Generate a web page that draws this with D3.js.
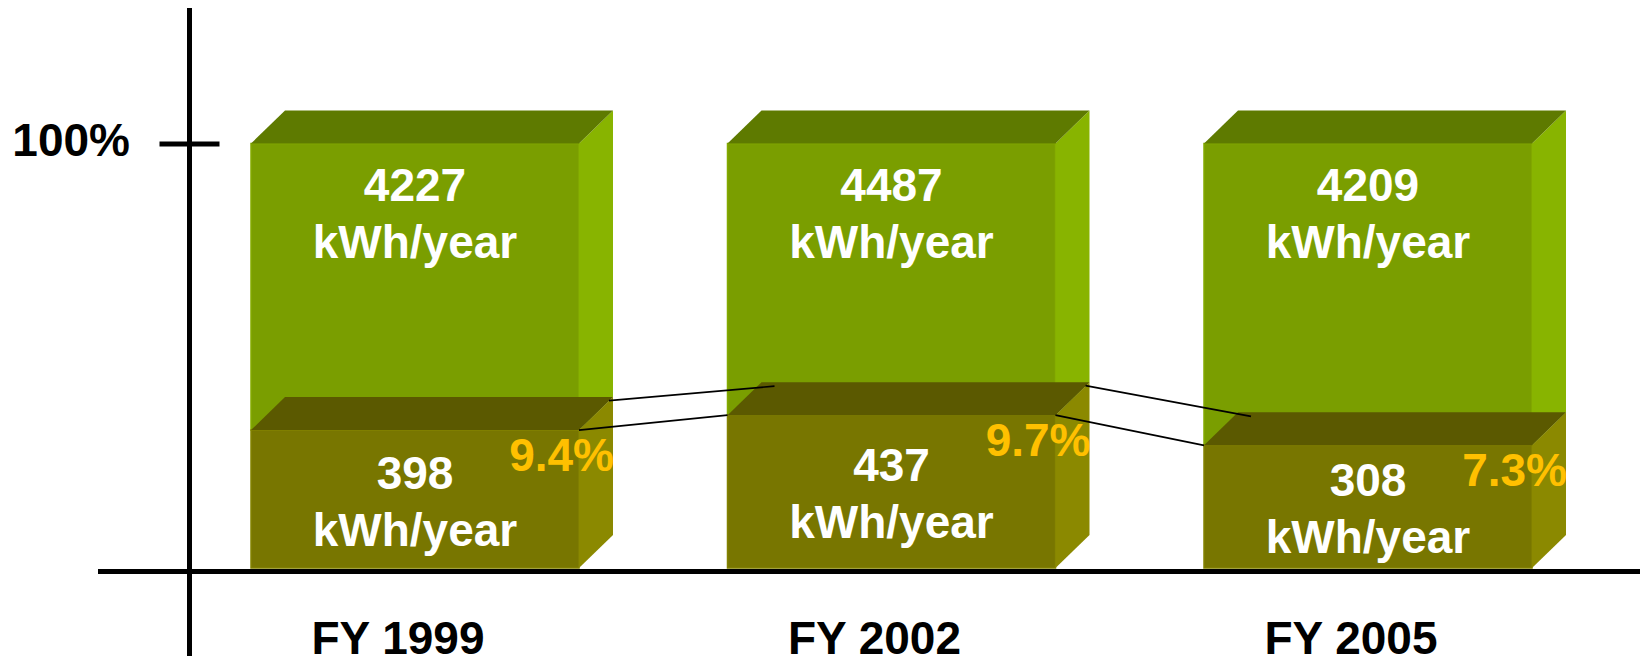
<!DOCTYPE html>
<html>
<head>
<meta charset="utf-8">
<script src="https://cdn.jsdelivr.net/npm/d3@7"></script>
<style>
  html, body { margin: 0; padding: 0; background: #ffffff; }
  svg { display: block; }
  text { font-family: "Liberation Sans", Arial, Helvetica, sans-serif; font-weight: bold; }
</style>
</head>
<body>
<svg id="chart" width="1640" height="668"></svg>
<script>
// ---- data ----
const categories   = ["FY 1999", "FY 2002", "FY 2005"];
const totalKWh     = [4227, 4487, 4209];   // kWh/year, whole bar
const standbyKWh   = [398, 437, 308];      // kWh/year, lower segment
const standbyShare = ["9.4%", "9.7%", "7.3%"];
const splitLevel   = [32.5, 36.0, 28.9];   // level (on the 0–100 % axis) where the split is pictured
const yTickValues  = [100];
const unitLabel    = "kWh/year";

// ---- layout ----
const W = 1640, H = 668;
const axisX = 189.5, axisY = 571.5;
const barW = 328, dx = 34, dy = 33;

const svg = d3.select("#chart");

const x = d3.scalePoint().domain(categories).range([415, 1368]);
const y = d3.scaleLinear().domain([0, 100]).range([568, 143.5]);

const colors = {
  upFront: "#7a9e00", upTop: "#5e7a00", upSide: "#88b400", upEdge: "#84aa00",
  loFront: "#787600", loTop: "#5b5900", loSide: "#8b8900", loEdge: "#838200",
  pct: "#ffc000"
};

const rows = categories.map((c, i) => ({
  cat: c, total: totalKWh[i], standby: standbyKWh[i], share: standbyShare[i], split: splitLevel[i]
}));

const gBars = svg.append("g");

function segment(g, x0, yTop, yBot, front, top, side, edge) {
  const x1 = x0 + barW;
  g.append("rect").attr("x", x0).attr("y", yTop).attr("width", barW).attr("height", yBot - yTop)
    .attr("fill", front).attr("stroke", edge).attr("stroke-width", 1.5);
  g.append("polygon")
    .attr("points", [[x1, yTop], [x1 + dx, yTop - dy], [x1 + dx, yBot - dy], [x1, yBot]].map(p => p.join(",")).join(" "))
    .attr("fill", side);
  g.append("polygon")
    .attr("points", [[x0, yTop], [x0 + dx, yTop - dy], [x1 + dx, yTop - dy], [x1, yTop]].map(p => p.join(",")).join(" "))
    .attr("fill", top);
}

rows.forEach(d => {
  const cx = x(d.cat), x0 = cx - barW / 2;
  const g = gBars.append("g");
  // upper (total) segment first, then the lower (standby) segment over it
  segment(g, x0, y(100), y(d.split), colors.upFront, colors.upTop, colors.upSide, colors.upEdge);
  segment(g, x0, y(d.split), y(0), colors.loFront, colors.loTop, colors.loSide, colors.loEdge);
});

// ---- connector lines ----
const gLines = svg.append("g").attr("stroke", "#000").attr("stroke-width", 1.7).attr("fill", "none");
for (let i = 0; i < rows.length - 1; i++) {
  const a = rows[i], b = rows[i + 1];
  const aR = x(a.cat) + barW / 2, bL = x(b.cat) - barW / 2;
  // back edge
  gLines.append("line")
    .attr("x1", aR + dx - 4).attr("y1", y(a.split) - dy + 3.5)
    .attr("x2", bL + dx + 13).attr("y2", y(b.split) - dy + 4);
  // front edge
  gLines.append("line")
    .attr("x1", aR).attr("y1", y(a.split))
    .attr("x2", bL).attr("y2", y(b.split));
}

// ---- labels ----
const gLab = svg.append("g").attr("text-anchor", "middle").attr("fill", "#ffffff").style("font-size", "46px");
rows.forEach(d => {
  const cx = x(d.cat);
  const top = y(100);
  gLab.append("text").attr("x", cx).attr("y", top + 57.5).text(d.total);
  gLab.append("text").attr("x", cx).attr("y", top + 114.5).text(unitLabel);
  const mid = (y(d.split) + y(0)) / 2;
  gLab.append("text").attr("x", cx).attr("y", mid - 10.5).text(d.standby);
  gLab.append("text").attr("x", cx).attr("y", mid + 46.5).text(unitLabel);
  svg.append("text").attr("x", cx + barW / 2 + dx + 1).attr("y", y(d.split) + 40.5)
    .attr("text-anchor", "end").attr("fill", colors.pct).style("font-size", "46px").text(d.share);
});

// ---- axes ----
svg.append("line").attr("x1", 98).attr("x2", W).attr("y1", axisY).attr("y2", axisY)
  .attr("stroke", "#000").attr("stroke-width", 5);
svg.append("line").attr("x1", axisX).attr("x2", axisX).attr("y1", 8).attr("y2", 656)
  .attr("stroke", "#000").attr("stroke-width", 5);

const yAxis = d3.axisLeft(y).tickValues(yTickValues).tickFormat(d => d + "%")
  .tickSizeInner(30).tickSizeOuter(0).tickPadding(29.5);
const gy = svg.append("g").attr("transform", `translate(${axisX},0)`).call(yAxis);
gy.select(".domain").remove();
gy.selectAll(".tick line").attr("x1", -30).attr("x2", 30).attr("stroke", "#000").attr("stroke-width", 5);
gy.selectAll(".tick text").attr("dy", "12px").attr("fill", "#000")
  .style("font-size", "46px").style("font-family", "'Liberation Sans', Arial, sans-serif").style("font-weight", "bold");

// category labels
svg.append("g").attr("text-anchor", "middle").attr("fill", "#000").style("font-size", "46px")
  .selectAll("text").data(categories).join("text")
  .attr("x", d => x(d) - 17)
  .attr("y", 654)
  .text(d => d);
</script>
</body>
</html>
